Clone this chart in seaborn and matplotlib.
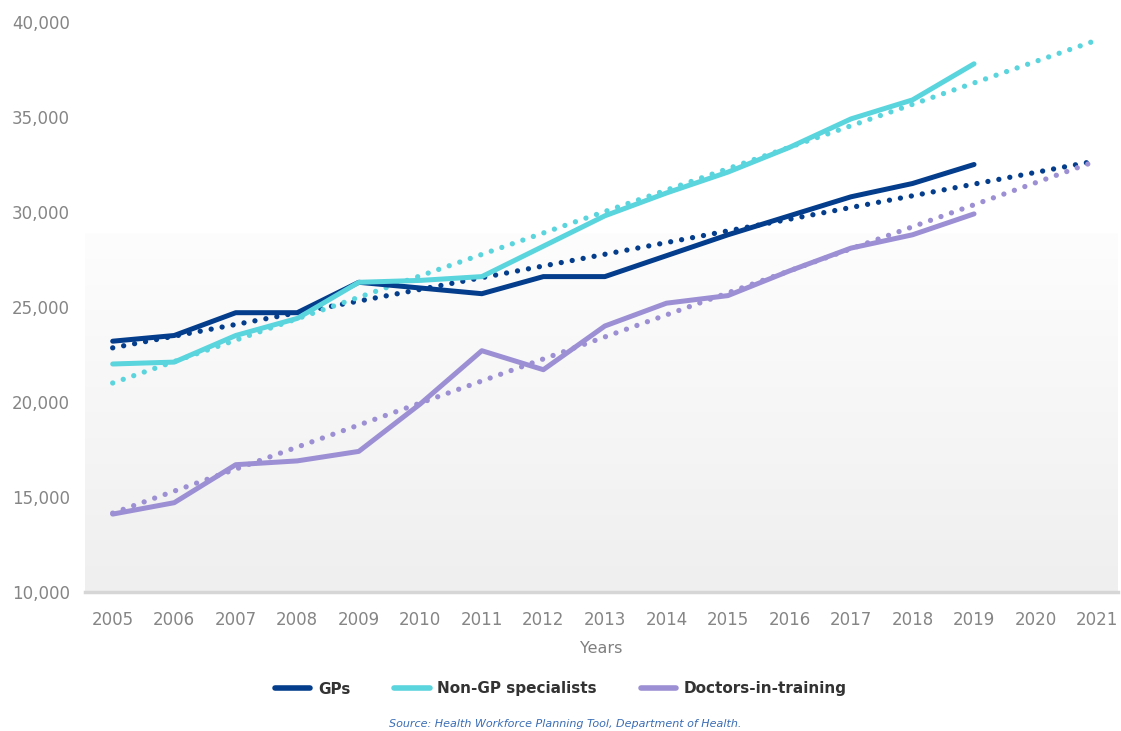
import numpy as np
import pandas as pd
import matplotlib
matplotlib.use("Agg")
import matplotlib.pyplot as plt
from matplotlib.lines import Line2D
import seaborn as sns

# Workforce headcounts by year
years = [2005, 2006, 2007, 2008, 2009, 2010, 2011, 2012, 2013, 2014,
         2015, 2016, 2017, 2018, 2019]
gps = [23200, 23500, 24700, 24700, 26300, 26000, 25700, 26600, 26600,
       27700, 28800, 29800, 30800, 31500, 32500]
non_gp = [22000, 22100, 23500, 24400, 26300, 26400, 26600, 28200, 29800,
          31000, 32100, 33400, 34900, 35900, 37800]
dit = [14100, 14700, 16700, 16900, 17400, 19900, 22700, 21700, 24000,
       25200, 25600, 26900, 28100, 28800, 29900]

# Linear trend lines (start and end values)
trend_years = [2005, 2021]
gps_trend = [22850, 32700]
non_gp_trend = [21000, 39050]
dit_trend = [14150, 32700]

series_names = ["GPs", "Non-GP specialists", "Doctors-in-training"]
colors = ["#033d8c", "#5ad4dd", "#9d8fd3"]

x_ticks = list(range(2005, 2022))
y_ticks = [10000, 15000, 20000, 25000, 30000, 35000, 40000]

sns.set_theme(style="white")
plt.rcParams["font.family"] = ["DejaVu Sans"]

df = pd.DataFrame({
    "Year": years * 3,
    "Value": gps + non_gp + dit,
    "Series": np.repeat(series_names, len(years)),
})
df_trend = pd.DataFrame({
    "Year": trend_years * 3,
    "Value": gps_trend + non_gp_trend + dit_trend,
    "Series": np.repeat(series_names, len(trend_years)),
})
palette = dict(zip(series_names, colors))

W, H = 1121, 731
fig = plt.figure(figsize=(W / 100, H / 100), dpi=100)
left, right, top, bottom = 85, 1118, 22, 592
ax = fig.add_axes([left / W, 1 - bottom / H, (right - left) / W, (bottom - top) / H])

# Lower background panel: near-white at its top fading to light grey
grad = np.linspace(1.0, 0.0, 256).reshape(-1, 1, 1)
top_c = np.array([0xfd, 0xfd, 0xfd]) / 255
bot_c = np.array([0xef, 0xef, 0xef]) / 255
img = grad * top_c + (1 - grad) * bot_c
panel_top = (bottom - 233) / (bottom - top)
ax.imshow(img, extent=[0, 1, 0, panel_top], transform=ax.transAxes, aspect="auto",
          zorder=0, interpolation="bilinear")

sns.lineplot(data=df_trend, x="Year", y="Value", hue="Series", palette=palette,
             ax=ax, legend=False, linewidth=3.8, zorder=2,
             dashes=False, estimator=None)
for ln in ax.get_lines():
    ln.set_linestyle((0, (0.01, 2.1)))
    ln.set_dash_capstyle("round")

sns.lineplot(data=df, x="Year", y="Value", hue="Series", palette=palette,
             ax=ax, legend=False, linewidth=3.6, zorder=3, estimator=None)

ax.set_xlim(2004.55, 2021.34)
ax.set_ylim(10000, 40000)
ax.set_xticks(x_ticks)
ax.set_xticklabels([str(x) for x in x_ticks])
ax.set_yticks(y_ticks)
ax.set_yticklabels([f"{v:,}" for v in y_ticks])
ax.tick_params(axis="both", length=0, labelsize=12, labelcolor="#858585")
ax.tick_params(axis="y", pad=(left - 12) * 0.72)
for lbl in ax.get_yticklabels():
    lbl.set_ha("left")
ax.tick_params(axis="x", pad=14)
ax.set_xlabel("Years", fontsize=11.5, color="#7f7f7f", labelpad=8)
ax.set_ylabel("")
for s in ["top", "right", "left"]:
    ax.spines[s].set_visible(False)
ax.spines["bottom"].set_color("#d6d6d6")
ax.spines["bottom"].set_linewidth(2.5)
ax.grid(False)

handles = [Line2D([0], [0], color=c, linewidth=4) for c in colors]
fig.legend(handles, series_names, loc="center", bbox_to_anchor=(561 / W, 1 - 689 / H),
           ncol=3, frameon=False, handlelength=2.3, columnspacing=2.9,
           handletextpad=0.5, prop={"size": 11, "weight": "semibold"},
           labelcolor="#333333")

fig.text(565 / W, 1 - 724 / H, "Source: Health Workforce Planning Tool, Department of Health.",
         ha="center", va="center", fontsize=8, style="italic", color="#3a6db5")

fig.savefig("out.png", dpi=100)
